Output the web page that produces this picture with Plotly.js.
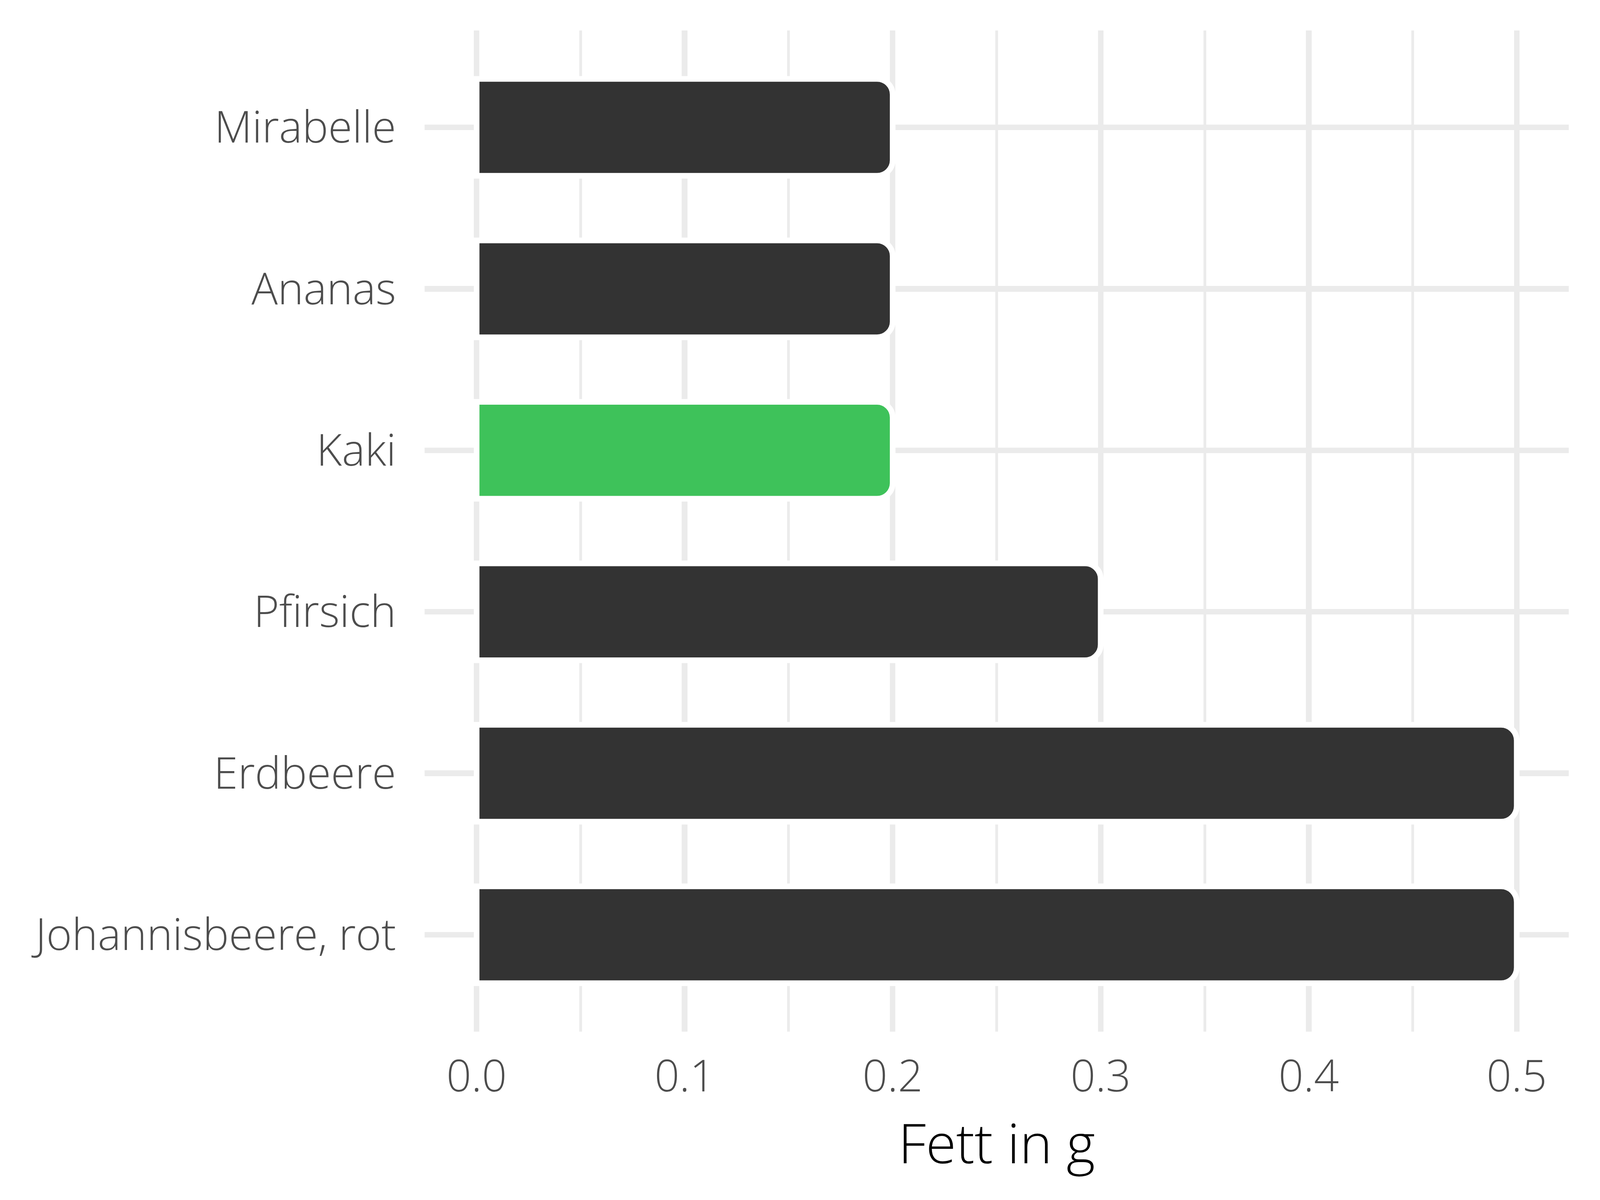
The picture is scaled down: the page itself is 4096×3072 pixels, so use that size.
<!DOCTYPE html>
<html>
<head>
<meta charset="utf-8">
<script src="https://cdn.plot.ly/plotly-3.0.1.min.js"></script>
<style>
  html, body { margin: 0; padding: 0; background: #ffffff; }
  #chart { width: 4096px; height: 3072px; }
</style>
</head>
<body>
<div id="chart"></div>
<script>
// Data (bottom to top as Plotly orders categories)
const categories = ['Johannisbeere, rot', 'Erdbeere', 'Pfirsich', 'Kaki', 'Ananas', 'Mirabelle'];
const fatValues = [0.5, 0.5, 0.3, 0.2, 0.2, 0.2];
const highlighted = 'Kaki';
const xTickValues = [0, 0.1, 0.2, 0.3, 0.4, 0.5];
const xTickLabels = ['0.0', '0.1', '0.2', '0.3', '0.4', '0.5'];
const xMinorTickValues = [0.05, 0.15, 0.25, 0.35, 0.45];
const xAxisTitle = 'Fett in g';

const baseColor = '#333333';
const highlightColor = '#3EC25A';
const barColors = categories.map(c => c === highlighted ? highlightColor : baseColor);

const gridColor = '#EBEBEB';
const fontFamily = '"Open Sans", "Noto Sans", "DejaVu Sans", sans-serif';

const trace = {
  type: 'bar',
  orientation: 'h',
  x: fatValues,
  y: categories,
  width: 0.6,
  marker: {
    color: barColors,
    line: { color: '#ffffff', width: 14.5 },
    cornerradius: 40
  },
  hoverinfo: 'skip'
};

const layout = {
  width: 4096,
  height: 3072,
  paper_bgcolor: '#ffffff',
  plot_bgcolor: '#ffffff',
  showlegend: false,
  margin: { l: 1087, r: 80, t: 78, b: 431, pad: 0 },
  font: { family: fontFamily, color: '#4D4D4D' },
  xaxis: {
    range: [-0.025, 0.525],
    tickmode: 'array',
    tickvals: xTickValues,
    ticktext: xTickLabels,
    ticks: '',
    showgrid: true,
    gridcolor: gridColor,
    gridwidth: 14.5,
    zeroline: false,
    showline: false,
    automargin: true,
    tickfont: { family: fontFamily, size: 112, color: '#4D4D4D', weight: 300 },
    ticklabelstandoff: 40,
    minor: {
      tickmode: 'array',
      tickvals: xMinorTickValues,
      showgrid: true,
      gridcolor: gridColor,
      gridwidth: 7,
      ticks: ''
    },
    title: {
      text: xAxisTitle,
      font: { family: fontFamily, size: 141, color: '#000000', weight: 300 },
      standoff: 8
    },
    fixedrange: true
  },
  yaxis: {
    type: 'category',
    categoryorder: 'array',
    categoryarray: categories,
    range: [-0.6, 5.6],
    ticks: '',
    showgrid: true,
    gridcolor: gridColor,
    gridwidth: 14.5,
    zeroline: false,
    showline: false,
    tickfont: { family: fontFamily, size: 112, color: '#4D4D4D', weight: 300 },
    ticklabelstandoff: 72,
    fixedrange: true
  },
  bargap: 0.4
};

Plotly.newPlot('chart', [trace], layout, { staticPlot: true, displayModeBar: false });
</script>
</body>
</html>
